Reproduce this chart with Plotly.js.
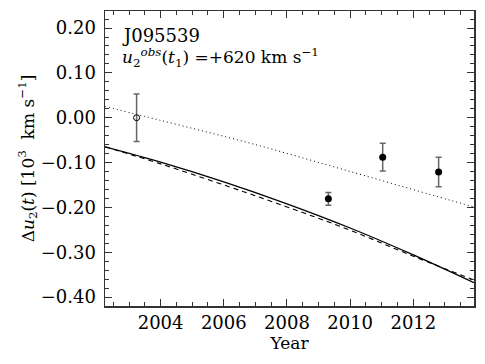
<!DOCTYPE html>
<html>
<head>
<meta charset="utf-8">
<script src="https://cdn.plot.ly/plotly-3.0.1.min.js"></script>
<style>
  html, body { margin: 0; padding: 0; background: #fff; }
  #chart { width: 485px; height: 364px; }
</style>
</head>
<body>
<div id="chart"></div>
<script>
// observed epochs
var obsYear = [2003.24, 2009.31, 2011.03, 2012.80];
var obsDu = [0.000, -0.181, -0.088, -0.121];
var obsErr = [0.053, 0.014, 0.031, 0.033];

// model curves
var solidYear = [2002.24, 2004.0, 2006.0, 2008.0, 2010.0, 2012.0, 2013.92];
var solidDu = [-0.065, -0.099, -0.143, -0.192, -0.246, -0.306, -0.368];

var dashYear = [2002.24, 2004.0, 2006.0, 2008.0, 2010.0, 2012.0, 2013.92];
var dashDu = [-0.065, -0.103, -0.150, -0.199, -0.251, -0.309, -0.362];

var dotYear = [2002.24, 2004.0, 2006.84, 2010.0, 2013.16, 2013.92];
var dotDu = [0.025, -0.006, -0.057, -0.120, -0.184, -0.199];

var font = "'DejaVu Serif', serif";

var traces = [
	{
		x: solidYear, y: solidDu, mode: 'lines',
		line: {color: '#000', width: 1.3, shape: 'spline'}, hoverinfo: 'skip'
	},
	{
		x: dashYear, y: dashDu, mode: 'lines',
		line: {color: '#000', width: 1.1, dash: '5px,4px', shape: 'spline'}, hoverinfo: 'skip'
	},
	{
		x: dotYear, y: dotDu, mode: 'lines',
		line: {color: '#000', width: 1, dash: '1px,3px', shape: 'spline'}, hoverinfo: 'skip'
	},
	{
		// first epoch: open symbol
		x: obsYear.slice(0, 1), y: obsDu.slice(0, 1), mode: 'markers',
		marker: {symbol: 'circle-open', size: 6, color: '#000', line: {width: 1, color: '#000'}},
		error_y: {type: 'data', array: obsErr.slice(0, 1), color: '#666', thickness: 1.5, width: 3}
	},
	{
		x: obsYear.slice(1), y: obsDu.slice(1), mode: 'markers',
		marker: {symbol: 'circle', size: 7, color: '#000'},
		error_y: {type: 'data', array: obsErr.slice(1), color: '#666', thickness: 1.5, width: 3}
	}
];

var layout = {
	width: 485, height: 364,
	margin: {l: 105, r: 11, t: 11, b: 58},
	showlegend: false,
	paper_bgcolor: '#fff', plot_bgcolor: '#fff',
	font: {family: font, size: 17, color: '#000'},
	xaxis: {
		range: [2002.24, 2013.92],
		tickvals: [2004, 2006, 2008, 2010, 2012],
		ticks: 'inside', ticklen: 7, tickwidth: 1, tickcolor: '#333',
		minor: {dtick: 0.5, ticks: 'inside', ticklen: 4, tickcolor: '#333', tickwidth: 1},
		showline: true, linecolor: '#333', linewidth: 1.5, mirror: 'allticks',
		showgrid: false, zeroline: false,
		tickfont: {family: font, size: 18, color: '#000'},
		title: {text: 'Year', font: {family: font, size: 17, color: '#000'}, standoff: 4}
	},
	yaxis: {
		range: [-0.42, 0.238],
		dtick: 0.1, tick0: 0, tickformat: '.2f',
		ticks: 'inside', ticklen: 7, tickwidth: 1, tickcolor: '#333',
		minor: {dtick: 0.02, ticks: 'inside', ticklen: 4, tickcolor: '#333', tickwidth: 1},
		showline: true, linecolor: '#333', linewidth: 1.5, mirror: 'allticks',
		showgrid: false, zeroline: false,
		ticklabelstandoff: 4,
		tickfont: {family: font, size: 18, color: '#000'},
		title: {text: 'Δ<i>u</i><sub>2</sub>(<i>t</i>) [10<sup>3</sup>  km s<sup>−1</sup>]', font: {family: font, size: 17, color: '#000'}, standoff: 2}
	},
	annotations: [
		{
			xref: 'paper', yref: 'paper', x: 0.04, y: 0.96, xanchor: 'left', yanchor: 'top',
			showarrow: false, align: 'left',
			text: 'J095539', font: {family: font, size: 18, color: '#000'}
		},
		{
			xref: 'paper', yref: 'paper', x: 0.04, y: 0.89, xanchor: 'left', yanchor: 'top',
			showarrow: false, align: 'left',
			text: '<i>u</i><sub>2</sub><sup><i>obs</i></sup>(<i>t</i><sub>1</sub>) =+620 km s<sup>−1</sup>',
			font: {family: font, size: 17, color: '#000'}
		}
	]
};

Plotly.newPlot('chart', traces, layout, {displayModeBar: false, staticPlot: true});
</script>
</body>
</html>
